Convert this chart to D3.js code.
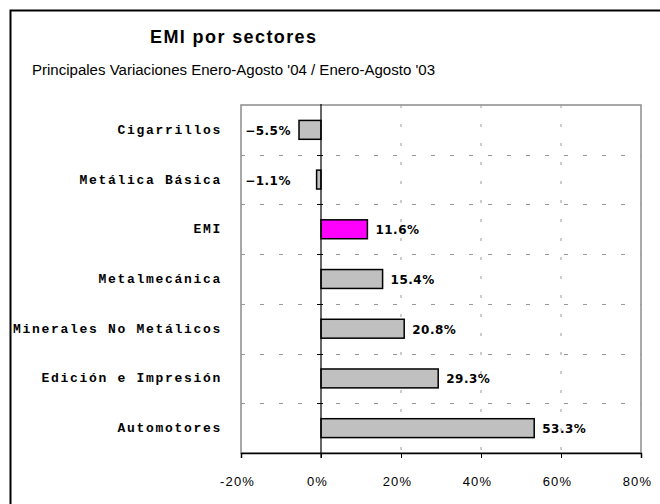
<!DOCTYPE html>
<html>
<head>
<meta charset="utf-8">
<script src="https://cdn.jsdelivr.net/npm/d3@7"></script>
<style>
  body { margin: 0; background: #fff; }
  svg { display: block; }
</style>
</head>
<body>
<div class="graph"></div>
<script>
// data
const sectores = ['Cigarrillos', 'Metálica Básica', 'EMI', 'Metalmecánica',
                  'Minerales No Metálicos', 'Edición e Impresión', 'Automotores'];
const variacion = [-5.5, -1.1, 11.6, 15.4, 20.8, 29.3, 53.3];
const destacado = ['EMI'];
const xTicks = [-20, 0, 20, 40, 60, 80];

const W = 660, H = 504;
const m = { left: 241, right: 641, top: 105, bottom: 453 };

const svg = d3.select('.graph').append('svg')
    .attr('width', W).attr('height', H);

// outer frame (only top/left edges fall inside the picture)
svg.append('rect')
    .attr('x', 10.5).attr('y', 10.5)
    .attr('width', 700).attr('height', 600)
    .attr('fill', 'none').attr('stroke', '#000').attr('stroke-width', 2);

svg.append('text')
    .attr('x', 233).attr('y', 43)
    .attr('text-anchor', 'middle')
    .attr('font-family', 'Liberation Sans, Arial, sans-serif')
    .attr('font-weight', 'bold').attr('font-size', 18)
    .attr('textLength', 166).attr('lengthAdjust', 'spacing')
    .text('EMI por sectores');

svg.append('text')
    .attr('x', 32).attr('y', 75)
    .attr('font-family', 'Liberation Sans, Arial, sans-serif')
    .attr('font-size', 14)
    .attr('textLength', 403).attr('lengthAdjust', 'spacingAndGlyphs')
    .text("Principales Variaciones Enero-Agosto '04 / Enero-Agosto '03");

const x = d3.scaleLinear().domain([-20, 80]).range([m.left, m.right]);
const y = d3.scaleBand().domain(sectores).range([m.top, m.bottom]).paddingInner(0.62).paddingOuter(0.31);
const band = d3.scaleBand().domain(sectores).range([m.top, m.bottom]);

// plot area border (grey)
svg.append('rect')
    .attr('x', m.left).attr('y', m.top)
    .attr('width', m.right - m.left).attr('height', m.bottom - m.top)
    .attr('fill', '#fff').attr('stroke', '#8c8c8c').attr('stroke-width', 1.5);

// horizontal dashed gridlines between categories
svg.append('g').selectAll('line')
    .data(sectores.slice(1))
    .join('line')
    .attr('x1', m.left).attr('x2', m.right)
    .attr('y1', d => Math.round(band(d)) + 0.5).attr('y2', d => Math.round(band(d)) + 0.5)
    .attr('stroke', '#999').attr('stroke-dasharray', '4,15');

// vertical dashed gridlines
svg.append('g').selectAll('line')
    .data(xTicks.filter(d => d > 0 && d < 80))
    .join('line')
    .attr('x1', d => x(d)).attr('x2', d => x(d))
    .attr('y1', m.top).attr('y2', m.bottom)
    .attr('stroke', '#999').attr('stroke-dasharray', '3,16');

// bars
svg.append('g').selectAll('rect')
    .data(sectores)
    .join('rect')
    .attr('x', (d, i) => x(Math.min(0, variacion[i])))
    .attr('y', d => y(d))
    .attr('width', (d, i) => Math.abs(x(variacion[i]) - x(0)))
    .attr('height', y.bandwidth())
    .attr('fill', d => destacado.includes(d) ? '#ff00ff' : '#c0c0c0')
    .attr('stroke', '#000').attr('stroke-width', 1.5);

// value labels
svg.append('g').selectAll('text')
    .data(sectores)
    .join('text')
    .attr('x', (d, i) => variacion[i] < 0 ? x(0) - 30 : x(variacion[i]) + 8)
    .attr('y', d => y(d) + y.bandwidth() / 2 + 5)
    .attr('text-anchor', (d, i) => variacion[i] < 0 ? 'end' : 'start')
    .attr('font-family', 'DejaVu Sans, sans-serif')
    .attr('font-weight', 'bold').attr('font-size', 12)
    .attr('letter-spacing', 0.5)
    .text((d, i) => d3.format('.1f')(variacion[i]) + '%');

// category labels
svg.append('g').selectAll('text')
    .data(sectores)
    .join('text')
    .attr('x', 222)
    .attr('y', d => band(d) + band.bandwidth() / 2 + 4)
    .attr('text-anchor', 'end')
    .attr('font-family', 'Liberation Mono, Courier New, monospace')
    .attr('font-weight', 'bold').attr('font-size', 13)
    .attr('letter-spacing', 1.7)
    .text(d => d);

// zero axis
const zero = svg.append('g').attr('transform', `translate(${x(0)},0)`);
zero.append('line')
    .attr('y1', m.top - 1).attr('y2', m.bottom + 5)
    .attr('stroke', '#000').attr('stroke-width', 1.2);
zero.selectAll('.tk')
    .data(sectores.slice(1))
    .join('line')
    .attr('x1', -4).attr('x2', 2)
    .attr('y1', d => Math.round(band(d)) + 0.5).attr('y2', d => Math.round(band(d)) + 0.5)
    .attr('stroke', '#000');

// x axis
const xAxis = svg.append('g')
    .attr('transform', `translate(0,${m.bottom})`)
    .call(d3.axisBottom(x).tickValues(xTicks).tickSize(5).tickFormat(d => d + '%'));
xAxis.select('.domain').attr('stroke', '#000').attr('stroke-width', 1.5);
xAxis.selectAll('text')
    .attr('dy', '1.95em')
    .attr('dx', -4)
    .attr('font-family', 'Liberation Sans, Arial, sans-serif')
    .attr('font-size', 13)
    .attr('letter-spacing', 1.2)
    .attr('fill', '#000');
</script>
</body>
</html>
